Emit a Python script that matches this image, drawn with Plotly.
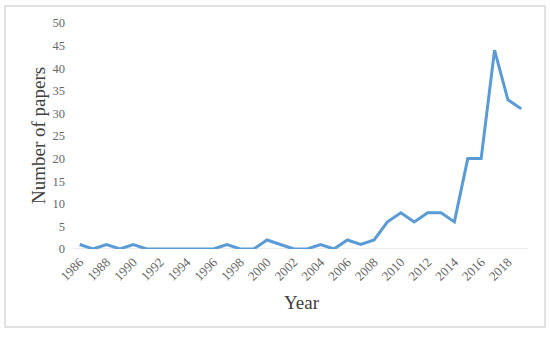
import plotly.graph_objects as go

years = list(range(1986, 2020))
papers = [1, 0, 1, 0, 1, 0, 0, 0, 0, 0, 0, 1, 0, 0, 2, 1, 0, 0, 1, 0,
          2, 1, 2, 6, 8, 6, 8, 8, 6, 20, 20, 44, 33, 31]
tick_years = list(range(1986, 2019, 2))
y_ticks = list(range(0, 51, 5))

W, H = 550, 337
L, R, T, B = 73, 22, 23, 88
pw, ph = W - L - R, H - T - B

def px_x(x):
    return (x - L) / pw

def px_y(y):
    return (H - B - y) / ph

fig = go.Figure()
fig.add_trace(go.Scatter(x=years, y=papers, mode="lines",
                         line=dict(color="#5B9BD5", width=3),
                         hoverinfo="skip", showlegend=False))

font_serif = "Liberation Serif, Times New Roman, serif"
fig.update_layout(
    width=W, height=H,
    margin=dict(l=L, r=R, t=T, b=B, autoexpand=False),
    paper_bgcolor="white", plot_bgcolor="white",
    xaxis=dict(range=[1985.5, 2019.5], tickvals=tick_years,
               ticktext=[str(y) for y in tick_years], tickangle=-45,
               showgrid=False, zeroline=False, showline=False, ticks="",
               ticklabelstandoff=2,
               tickfont=dict(family=font_serif, size=13, color="#666666")),
    yaxis=dict(range=[0, 50], tickvals=y_ticks, showgrid=False,
               zeroline=False, showline=False, ticks="",
               ticklabelstandoff=7,
               tickfont=dict(family=font_serif, size=12.5, color="#666666")),
    shapes=[
        dict(type="line", xref="paper", yref="y", x0=0, x1=1, y0=0, y1=0,
             line=dict(color="#D9D9D9", width=1), layer="below"),
        dict(type="rect", xref="paper", yref="paper",
             x0=px_x(5), x1=px_x(545), y0=px_y(327), y1=px_y(6),
             line=dict(color="#D9D9D9", width=1.5)),
    ],
    annotations=[
        dict(text="Number of papers", xref="paper", yref="paper",
             x=px_x(38), y=px_y(136), textangle=-90, showarrow=False,
             font=dict(family=font_serif, size=19, color="#404040"),
             xanchor="center", yanchor="middle"),
        dict(text="Year", xref="paper", yref="paper",
             x=px_x(302), y=px_y(302), showarrow=False,
             font=dict(family=font_serif, size=19, color="#404040"),
             xanchor="center", yanchor="middle"),
    ],
)

fig.write_html("out.html", config={"displayModeBar": False},
               post_script="document.body.style.margin='0';")
